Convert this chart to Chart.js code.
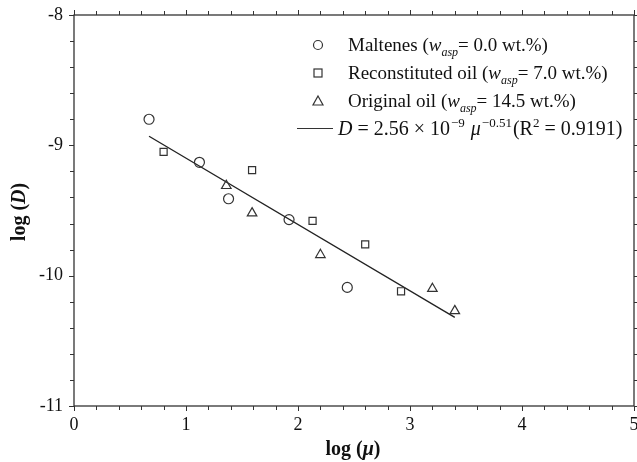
<!DOCTYPE html>
<html><head><meta charset="utf-8">
<script src="https://cdn.jsdelivr.net/npm/chart.js@4.4.1/dist/chart.umd.min.js"></script>
<style>html,body{margin:0;padding:0;background:#fff}#wrap{width:637px;height:462px}</style>
</head><body><div id="wrap"><canvas id="c" width="637" height="462"></canvas></div>
<script>
// ---- data ----
const maltenesX = [0.67, 1.12, 1.38, 1.92, 2.44];
const maltenesY = [-8.80, -9.13, -9.41, -9.57, -10.09];
const reconX = [0.80, 1.59, 2.13, 2.60, 2.92];
const reconY = [-9.05, -9.19, -9.58, -9.76, -10.12];
const originalX = [1.36, 1.59, 2.20, 3.20, 3.40];
const originalY = [-9.31, -9.52, -9.84, -10.10, -10.27];
const fitX = [0.67, 3.40];
const fitY = [-8.93, -10.32];
const xTickLabels = ['0', '1', '2', '3', '4', '5'];
const yTickLabels = ['-11', '-10', '-9', '-8'];

const SERIF = '"Liberation Serif", "DejaVu Serif", serif';
const pts = (xs, ys) => xs.map((x, i) => ({x, y: ys[i]}));

function runFont(r, def) {
  return (r.bold ? 'bold ' : '') + (r.italic ? 'italic ' : '') + (r.size || def) + 'px ' + SERIF;
}
function drawRuns(ctx, runs, x, y, def) {
  for (const r of runs) {
    ctx.font = runFont(r, def);
    ctx.fillText(r.t, x, y + (r.dy || 0));
    x += ctx.measureText(r.t).width + (r.after || 0);
  }
  return x;
}
function runsWidth(ctx, runs, def) {
  let w = 0;
  for (const r of runs) { ctx.font = runFont(r, def); w += ctx.measureText(r.t).width + (r.after || 0); }
  return w;
}

const framePlugin = {
  id: 'frame',
  afterDraw(chart) {
    const ctx = chart.ctx, a = chart.chartArea;
    const xs = chart.scales.x, ys = chart.scales.y;
    ctx.save();
    ctx.strokeStyle = '#333';
    ctx.lineWidth = 1.3;
    ctx.strokeRect(a.left, a.top, a.right - a.left, a.bottom - a.top);
    ctx.lineWidth = 1;
    ctx.beginPath();
    xs.ticks.forEach(t => {
      const px = Math.round(xs.getPixelForValue(t.value)) + 0.5;
      const major = Math.abs(t.value - Math.round(t.value)) < 1e-6;
      const L = major ? 5 : 4;
      ctx.moveTo(px, a.bottom); ctx.lineTo(px, a.bottom + L);
      ctx.moveTo(px, a.top); ctx.lineTo(px, a.top - L);
    });
    ys.ticks.forEach(t => {
      const py = Math.round(ys.getPixelForValue(t.value)) + 0.5;
      const major = Math.abs(t.value - Math.round(t.value)) < 1e-6;
      const L = major ? 5 : 4;
      ctx.moveTo(a.left, py); ctx.lineTo(a.left - L, py);
      ctx.moveTo(a.right, py); ctx.lineTo(a.right + L, py);
    });
    ctx.stroke();

    ctx.fillStyle = '#111';
    ctx.textBaseline = 'alphabetic';
    ctx.textAlign = 'left';
    // x title
    const xRuns = [{t: 'log (', bold: true}, {t: 'μ', bold: true, italic: true}, {t: ')', bold: true}];
    let w = runsWidth(ctx, xRuns, 20);
    drawRuns(ctx, xRuns, (a.left + a.right) / 2 - w / 2 - 1, 455, 20);
    // y title
    const yRuns = [{t: 'log (', bold: true}, {t: 'D', bold: true, italic: true}, {t: ')', bold: true}];
    w = runsWidth(ctx, yRuns, 20);
    ctx.save();
    ctx.translate(25, 212);
    ctx.rotate(-Math.PI / 2);
    drawRuns(ctx, yRuns, -w / 2, 0, 20);
    ctx.restore();

    // legend
    const mx = 318, tx = 348;
    const rows = [45, 73, 101];
    ctx.strokeStyle = '#333';
    ctx.lineWidth = 1.2;
    ctx.beginPath(); ctx.arc(mx, rows[0], 4.5, 0, Math.PI * 2); ctx.stroke();
    ctx.strokeRect(mx - 4, rows[1] - 4, 8, 8);
    ctx.beginPath(); ctx.moveTo(mx, rows[2] - 5); ctx.lineTo(mx + 5, rows[2] + 4); ctx.lineTo(mx - 5, rows[2] + 4); ctx.closePath(); ctx.stroke();
    ctx.beginPath(); ctx.moveTo(297, 128.5); ctx.lineTo(333, 128.5); ctx.stroke();

    const base = 6, F = 19;
    const sub = {italic: true, size: 12, dy: 5};
    drawRuns(ctx, [{t: 'Maltenes ('}, {t: 'w', italic: true}, Object.assign({t: 'asp'}, sub), {t: '= 0.0 wt.%)'}], tx, rows[0] + base, F);
    drawRuns(ctx, [{t: 'Reconstituted oil ('}, {t: 'w', italic: true}, Object.assign({t: 'asp'}, sub), {t: '= 7.0 wt.%)'}], tx, rows[1] + base, F);
    drawRuns(ctx, [{t: 'Original oil ('}, {t: 'w', italic: true}, Object.assign({t: 'asp'}, sub), {t: '= 14.5 wt.%)'}], tx, rows[2] + base, F);
    drawRuns(ctx, [
      {t: 'D', italic: true}, {t: ' = 2.56 \u00d7 10', after: 1},
      {t: '\u22129', size: 13, dy: -8, after: 6},
      {t: 'μ', italic: true, after: 1},
      {t: '\u22120.51', size: 13, dy: -8, after: 1},
      {t: '(R'}, {t: '2', size: 13, dy: -8}, {t: ' = 0.9191)'}
    ], 338, 129 + base, 20);
    ctx.restore();
  }
};

const marker = {borderColor: '#333', backgroundColor: 'rgba(0,0,0,0)', borderWidth: 1.2, showLine: false};

new Chart(document.getElementById('c'), {
  type: 'scatter',
  data: {
    datasets: [
      Object.assign({label: 'Maltenes', data: pts(maltenesX, maltenesY), pointStyle: 'circle', pointRadius: 5}, marker),
      Object.assign({label: 'Reconstituted oil', data: pts(reconX, reconY), pointStyle: 'rect', pointRadius: 5}, marker),
      Object.assign({label: 'Original oil', data: pts(originalX, originalY), pointStyle: 'triangle', pointRadius: 5.5}, marker),
      {label: 'Fit', data: pts(fitX, fitY), showLine: true, pointRadius: 0, borderColor: '#222', borderWidth: 1.3, fill: false}
    ]
  },
  options: {
    responsive: false,
    animation: false,
    devicePixelRatio: 1,
    layout: {autoPadding: false, padding: {left: 0, right: 3, top: 15, bottom: 0}},
    plugins: {legend: {display: false}, tooltip: {enabled: false}},
    scales: {
      x: {
        type: 'linear', min: 0, max: 5,
        afterFit: s => { s.height = 56; s.paddingLeft = 0; s.paddingRight = 0; },
        afterBuildTicks: s => { s.ticks = []; for (let i = 0; i <= 25; i++) s.ticks.push({value: i * 0.2}); },
        grid: {display: false, drawTicks: false},
        border: {display: false},
        ticks: {
          padding: 8, color: '#111', font: {family: SERIF, size: 18},
          autoSkip: false, maxRotation: 0,
          callback: v => { const r = Math.round(v); return Math.abs(v - r) < 1e-6 ? xTickLabels[r] : ''; }
        }
      },
      y: {
        type: 'linear', min: -11, max: -8,
        afterFit: s => { s.width = 74; s.paddingTop = 0; s.paddingBottom = 0; },
        afterBuildTicks: s => { s.ticks = []; for (let i = 0; i <= 15; i++) s.ticks.push({value: -11 + i * 0.2}); },
        grid: {display: false, drawTicks: false},
        border: {display: false},
        ticks: {
          padding: 11, color: '#111', font: {family: SERIF, size: 18},
          autoSkip: false,
          callback: v => { const r = Math.round(v); return Math.abs(v - r) < 1e-6 ? yTickLabels[r + 11] : ''; }
        }
      }
    }
  },
  plugins: [framePlugin]
});
</script>
</body></html>
